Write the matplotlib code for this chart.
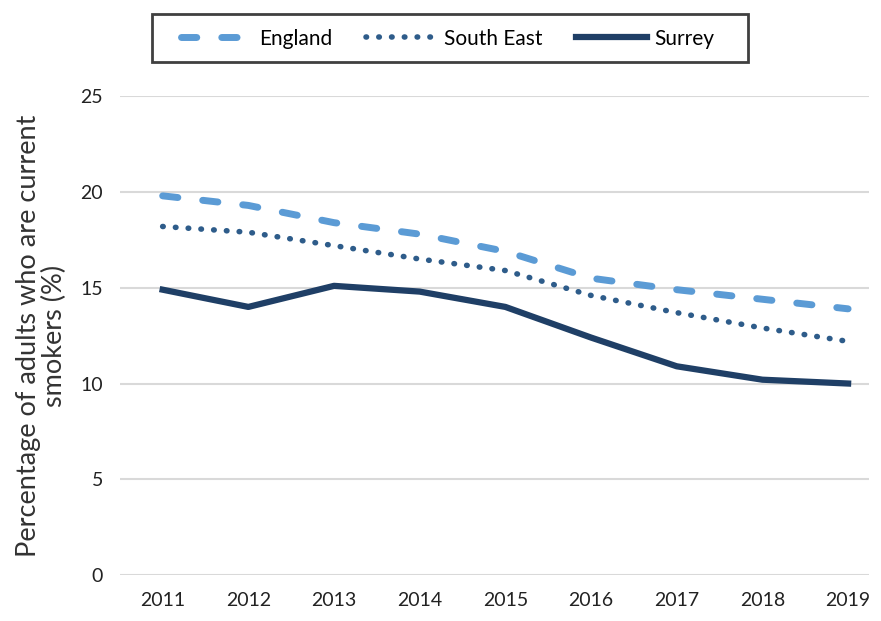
import matplotlib.pyplot as plt
from matplotlib.patches import Rectangle
import numpy as np

years = ['2011', '2012', '2013', '2014', '2015', '2016', '2017', '2018', '2019']
england = [19.8, 19.3, 18.4, 17.8, 16.9, 15.5, 14.9, 14.4, 13.9]
south_east = [18.2, 17.9, 17.2, 16.5, 15.9, 14.6, 13.7, 12.9, 12.2]
surrey = [14.9, 14.0, 15.1, 14.8, 14.0, 12.4, 10.9, 10.2, 10.0]

plt.rcParams['font.family'] = ['Lato', 'DejaVu Sans']

fig = plt.figure(figsize=(8.81, 6.21), dpi=100)
ax = fig.add_axes([0.136, 0.074, 0.85, 0.771])

x = np.arange(len(years))
ax.plot(x, england, color='#5B9BD5', linewidth=5, linestyle=(0, (2.2, 3.6)),
        dash_capstyle='round', label='England')
ax.plot(x, south_east, color='#2E5C8A', linewidth=4, linestyle=(0, (0.1, 2.2)),
        dash_capstyle='round', label='South East')
ax.plot(x, surrey, color='#1F3F66', linewidth=4.5, label='Surrey')

ax.set_xlim(-0.5, 8.24)
ax.set_ylim(0, 25)
ax.set_yticks([0, 5, 10, 15, 20, 25])
ax.set_xticks(x)
ax.set_xticklabels(years)
ax.tick_params(axis='both', length=0, labelsize=14, colors='#222222', pad=12)
ax.yaxis.grid(True, color='#D9D9D9', linewidth=1.5)
ax.set_axisbelow(True)
for s in ax.spines.values():
    s.set_visible(False)

ax.set_ylabel('Percentage of adults who are current\nsmokers (%)', fontsize=19.5,
              color='#333333', labelpad=10, linespacing=1.05, multialignment='center')

# legend without its own frame, box drawn separately so it can be wider
fig.legend(loc='center', bbox_to_anchor=(0.508, 0.938), ncol=3, fontsize=15,
           frameon=False, handlelength=3.4, columnspacing=1.6,
           borderpad=0.45, handletextpad=0.35)
fig.patches.append(Rectangle((0.1725, 0.9002), 0.6765, 0.0773, transform=fig.transFigure,
                             fill=False, edgecolor='#404040', linewidth=2))

fig.savefig('out.png', dpi=100)
